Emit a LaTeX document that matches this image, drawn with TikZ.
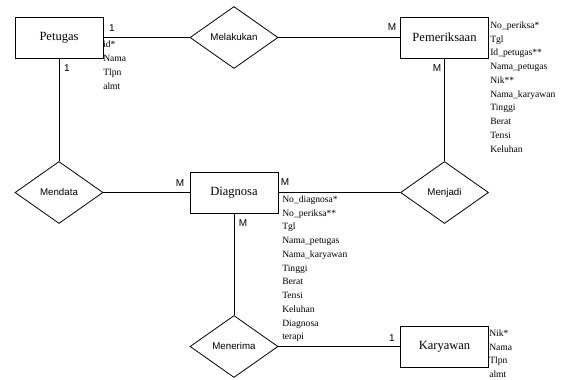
\documentclass[tikz,border=0pt]{standalone}
\usepackage{fontspec}
\setmainfont{Liberation Serif}
\setsansfont{Liberation Sans}
\usetikzlibrary{shapes.geometric}

\begin{document}
\begin{tikzpicture}[
  x=0.75pt, y=-0.75pt,
  entitas/.style={rectangle, draw, line width=0.6pt, minimum width=66pt,
                  minimum height=30.75pt, inner sep=0pt, font=\fontsize{9.4}{11}\selectfont},
  relasi/.style={diamond, draw, line width=0.6pt, minimum width=66pt,
                 minimum height=46.5pt, inner sep=0pt, font=\sffamily\fontsize{7.3}{9}\selectfont},
  atribut/.style={anchor=north west, align=left, inner sep=0pt,
                  font=\fontsize{7.2}{10.3}\selectfont},
  kard/.style={inner sep=0pt, font=\sffamily\fontsize{7.5}{9}\selectfont},
  garis/.style={line width=0.6pt}
]
\useasboundingbox (0,0) rectangle (564,379);

%% --- Entities ---
\node[entitas] (petugas)     at (59,37.5)    {Petugas};
\node[entitas] (pemeriksaan) at (444.5,37.5) {Pemeriksaan};
\node[entitas] (diagnosa)    at (234,192.5)  {Diagnosa};
\node[entitas] (karyawan)    at (444.5,346.5) {Karyawan};

%% --- Relationships ---
\node[relasi] (melakukan) at (234,37.5)   {Melakukan};
\node[relasi] (mendata)   at (59,192.5)   {Mendata};
\node[relasi] (menjadi)   at (444.5,192.5) {Menjadi};
\node[relasi] (menerima)  at (234,346.5)  {Menerima};

\draw[garis] (petugas) -- (melakukan);
\draw[garis] (melakukan) -- (pemeriksaan);
\draw[garis] (petugas) -- (mendata);
\draw[garis] (mendata) -- (diagnosa);
\draw[garis] (diagnosa) -- (menjadi);
\draw[garis] (pemeriksaan) -- (menjadi);
\draw[garis] (diagnosa) -- (menerima);
\draw[garis] (menerima) -- (karyawan);

%% --- Cardinalities ---
\node[kard] (k1) at (112,28)  {1};
\node[kard] (k2) at (67,68)   {1};
\node[kard] (k3) at (392,27)  {M};
\node[kard] (k4) at (437,68)  {M};
\node[kard] (k5) at (180,183) {M};
\node[kard] (k6) at (285,182) {M};
\node[kard] (k7) at (243,223) {M};
\node[kard] (k8) at (392,338) {1};

%% --- Attributes ---
\node[atribut] (apetugas) at (103,41) {id*\\Nama\\Tlpn\\almt};
\node[atribut] (apemeriksaan) at (490,21.5)
  {No\_periksa*\\Tgl\\Id\_petugas**\\Nama\_petugas\\Nik**\\Nama\_karyawan\\Tinggi\\Berat\\Tensi\\Keluhan};
\node[atribut] (adiagnosa) at (282,195.5)
  {No\_diagnosa*\\No\_periksa**\\Tgl\\Nama\_petugas\\Nama\_karyawan\\Tinggi\\Berat\\Tensi\\Keluhan\\Diagnosa\\terapi};
\node[atribut] (akaryawan) at (489,329.5) {Nik*\\Nama\\Tlpn\\almt};

\end{tikzpicture}
\end{document}
